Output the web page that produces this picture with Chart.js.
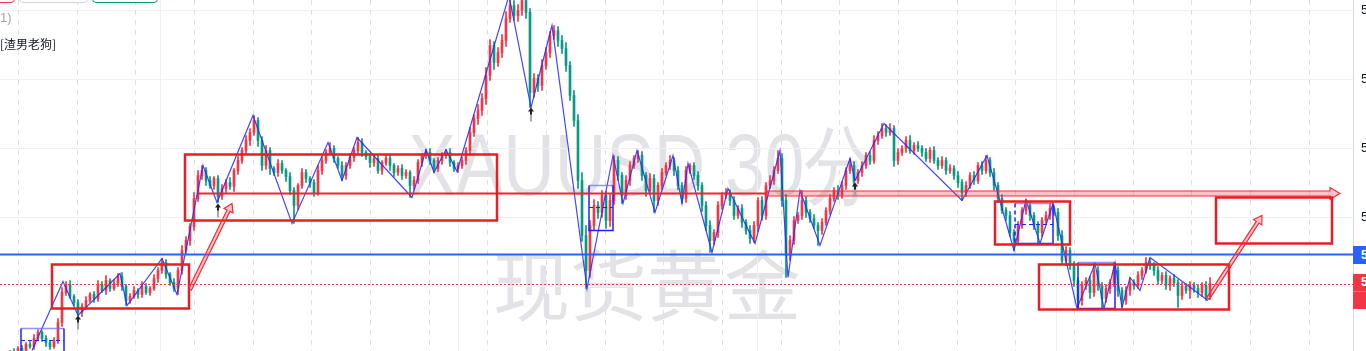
<!DOCTYPE html>
<html><head><meta charset="utf-8">
<script src="https://cdn.jsdelivr.net/npm/chart.js@4.4.1/dist/chart.umd.min.js"></script>
<style>
html,body{margin:0;padding:0;background:#fff;overflow:hidden;width:1366px;height:351px;}
#wrap{position:relative;width:1366px;height:351px;overflow:hidden;background:#fff;}
#c{position:absolute;left:0;top:0;z-index:1;}
.wm{position:absolute;left:0;width:1280px;text-align:center;color:#e3e3e7;z-index:0;white-space:nowrap;line-height:1;transform-origin:640px 0;}
#wm1{top:109px;font:72px "Liberation Sans",Arial,sans-serif;transform:scale(0.99,1.2);left:2px;}
#wm2{top:226px;left:7px;font:77px "Noto Sans CJK SC",sans-serif;}
.btn{position:absolute;top:-20px;height:21px;border-radius:4px;z-index:2;background:#fff;}
.txt{position:absolute;left:0;z-index:2;white-space:nowrap;}
#t1{top:10px;font:13px "Liberation Sans",Arial,sans-serif;color:#a3a6af;}
#t2{top:35px;font:12px "Noto Sans CJK SC",sans-serif;color:#131722;}
.plab{position:absolute;left:1353px;width:90px;z-index:3;color:#fff;font:bold 12px "Liberation Sans",Arial,sans-serif;box-sizing:border-box;padding-left:8px;}
</style></head>
<body>
<div id="wrap">
  <div class="wm" id="wm1">XAUUSD 30分</div>
  <div class="wm" id="wm2">现货黄金</div>
  <canvas id="c" width="1440" height="351"></canvas>
  <div class="btn" style="left:-10px;width:23px;border:1px solid #f23645;"></div>
  <div class="btn" style="left:19px;width:67px;border:1px solid #d1d4dc;"></div>
  <div class="btn" style="left:92px;width:64px;border:1.5px solid #089981;"></div>
  <div class="txt" id="t1">1)</div>
  <div class="txt" id="t2">[渣男老狗]</div>
  <div class="plab" id="pBlue" style="background:#2962ff;height:18px;line-height:18px;">5056.000</div>
  <div class="plab" id="pRed" style="background:#f23645;height:35px;line-height:17px;">5027.000<div style="border-top:1px solid rgba(255,255,255,0.3);margin-left:-8px;padding-left:16px;font-weight:normal;">17:52</div></div>
</div>
<script>
// ---------- data ----------
const firstOpen = 4940;
const closes = [
4945,4950,4958,4955,4962,4960,4966,4964,4972,4978,
4972,4968,4964,4970,4988,5018,5026,5014,5008,4998,
5004,5010,5016,5012,5026,5020,5030,5022,5027,5034,
5024,5010,5014,5020,5016,5024,5018,5022,5032,5040,
5048,5036,5028,5022,5040,5060,5070,5084,5112,5135,
5140,5130,5125,5132,5114,5122,5128,5124,5140,5150,
5160,5170,5178,5190,5170,5145,5160,5142,5138,5147,
5140,5134,5120,5105,5125,5138,5132,5128,5118,5140,
5150,5158,5162,5152,5145,5135,5145,5153,5160,5168,
5158,5154,5148,5152,5140,5148,5152,5145,5138,5142,
5135,5138,5125,5130,5148,5155,5158,5150,5142,5150,
5155,5158,5148,5142,5145,5150,5160,5178,5192,5200,
5212,5235,5265,5248,5258,5270,5292,5305,5295,5300,
5310,5298,5218,5232,5225,5245,5258,5275,5280,5270,
5262,5245,5215,5190,5130,5075,5040,5085,5105,5098,
5115,5090,5110,5150,5135,5115,5130,5145,5152,5155,
5135,5120,5132,5110,5125,5138,5145,5150,5140,5125,
5112,5140,5145,5135,5125,5105,5085,5070,5078,5105,
5115,5118,5110,5095,5102,5088,5080,5072,5085,5110,
5095,5125,5130,5140,5152,5110,5055,5070,5090,5095,
5110,5098,5092,5085,5080,5088,5100,5112,5120,5115,
5125,5140,5145,5130,5138,5145,5155,5150,5170,5175,
5182,5178,5182,5150,5158,5162,5170,5160,5165,5162,
5158,5152,5160,5150,5145,5150,5140,5142,5135,5128,
5118,5125,5135,5130,5145,5140,5150,5138,5125,5112,
5100,5095,5078,5070,5085,5100,5105,5095,5085,5078,
5090,5095,5102,5098,5075,5050,5060,5045,5030,5010,
5025,5030,5018,5040,5025,5012,5022,5028,5040,5020,
5010,5020,5028,5025,5035,5040,5048,5045,5040,5030,
5035,5025,5032,5028,5015,5024,5020,5025,5022,5018,
5025,5014,5027
];
const wickUp = [
2,3,2,4,2,3,2,3,4,3, 2,3,2,3,4,5,3,4,2,3, 3,4,2,3,4,3,5,2,4,3, 4,2,3,4,2,5,3,2,4,3,
4,3,2,4,3,5,4,3,6,5, 5,3,4,2,3,4,3,5,2,4, 3,5,4,5,3,4,5,3,2,4, 3,2,4,3,2,4,3,2,3,5,
4,3,6,3,2,4,3,4,3,5, 4,2,3,4,3,2,4,3,2,3, 4,3,2,4,3,2,3,4,2,3, 3,3,4,2,3,4,3,5,4,6,
5,8,6,4,5,6,7,10,5,6, 8,6,4,5,4,6,5,4,5,4, 5,6,4,5,6,8,10,5,6,4, 5,4,6,5,4,3,5,4,3,5,
4,3,5,4,3,4,3,5,3,4, 3,4,2,3,4,3,4,5,3,4, 3,4,3,4,3,4,3,5,4,3, 4,3,5,4,8,5,6,5,4,3,
10,4,3,4,3,4,3,4,3,5, 4,3,7,4,3,4,3,4,5,4, 5,4,5,3,4,3,4,5,3,4, 3,4,3,4,3,4,3,4,3,4,
3,4,3,4,3,4,5,3,4,3, 4,3,4,3,4,3,6,4,3,4, 3,4,5,3,4,5,4,3,4,3, 4,3,4,7,4,3,4,3,8,4,
3,4,5,3,4,3,5,4,3,4, 3,4,3,4,3,4,3,4,3,4, 3,4,6
];
const wickDown = [
3,2,4,2,3,2,4,2,3,2, 3,4,3,2,3,4,3,2,3,3, 4,3,2,4,3,2,4,3,2,3, 4,5,3,2,4,3,2,3,2,4,
3,4,3,3,6,4,3,5,4,3, 4,5,3,4,6,3,4,3,5,4, 3,4,5,3,6,5,4,6,3,4, 3,5,4,18,4,3,4,5,4,3,
4,3,2,4,3,5,4,3,4,3, 4,3,5,4,3,4,3,5,4,3, 4,3,12,4,3,4,3,4,4,3, 4,3,4,3,4,3,4,5,4,6,
5,6,5,7,4,5,6,4,5,6, 5,6,15,5,6,5,4,5,4,6, 5,6,5,6,8,6,18,7,5,6, 5,8,6,4,5,8,4,5,3,4,
5,6,4,12,5,4,3,4,5,4, 5,4,3,4,5,6,5,12,4,5, 4,3,5,4,3,5,4,5,4,6, 5,4,3,4,3,6,22,5,4,3,
4,5,4,3,15,4,3,4,3,4, 3,4,3,5,3,4,3,4,3,4, 3,4,3,6,4,3,4,3,4,3, 4,3,4,3,4,3,4,3,4,5,
8,4,3,4,3,4,3,4,5,4, 3,5,4,10,4,3,4,5,4,11, 4,3,4,3,5,4,5,4,6,8, 5,4,6,4,5,10,4,5,4,6,
7,4,5,4,3,4,3,4,5,4, 3,4,5,4,12,4,3,8,4,5, 4,4,3
];
const tickValues = [5300, 5231, 5162, 5093, 5024];
const zigzagIdx = [7.5,15.25,19,29.5,31.25,40,43.75,50.25,53.75,62.75,72.5,81.5,85,88.75,102.5,106,108,111,113.75,126.75,132.25,137.5,146.25,152.75,155.25,158.75,163.25,167.75,170,171.5,177.5,181.5,188.25,194.5,196.5,199.5,204.5,212,213.25,220.5,240,246.25,253,256,259.5,262.75,268.75,273.25,275.5,278.25,280,282,284.5,287,301.5];
const zigzagPrice = [4960,5029,4995,5037,5005,5052,5016,5145,5108,5195,5087,5168,5130,5173,5113,5161,5138,5161,5139,5315,5203,5285,5022,5155,5107,5160,5098,5155,5107,5147,5058,5122,5067,5160,5033,5120,5065,5152,5130,5187,5110,5155,5060,5111,5067,5107,5002,5047,5002,5048,5003,5033,5020,5053,5010];
// annotation drawings in data units [x1, price1, x2, price2]
const redBoxes = [[12.5,5046,46.75,5002],[45.75,5156,123.75,5090],[248.25,5109,267,5066],[259.25,5046,306.75,5001],[303.5,5113,332.5,5067]];
const blueBoxes = [[4.75,4982,15.5,4958,4970],[146.75,5125,152.75,5080,5103],[253.25,5107,262.75,5067,5086],[269,5048,278.25,5002,5025]];
const redLevel = [49, 191.25, 332, 334.5, 5117];     // solid start, band start, band end, tip, price
const hollowArrows = [[47,5021,57.5,5107],[301.5,5012,315,5095]];
const upMarkers = [[19,4995],[54,5107],[132.25,5203],[213.25,5128]];
const blueLinePrice = 5056;
const redDotPrice = 5027;
const vDash = [4,18.67,33.33,48,62.67,77.33,92,106.67,121.33,136,150.67,165.33,180,194.67,209.33,224,238.67,253.33,268,282.67,297.33,312,326.67];
const vSolid = [39.5,114,188.75,263.5];

// ---------- build ----------
const opens = closes.map((c,i)=> i ? closes[i-1] : firstOpen);
const highs = closes.map((c,i)=> Math.max(c,opens[i]) + wickUp[i]);
const lows = closes.map((c,i)=> Math.min(c,opens[i]) - wickDown[i]);
const RED='#f23645', GREEN='#089981';
const colors = closes.map((c,i)=> c>=opens[i] ? RED : GREEN);
const bodyData = closes.map((c,i)=>({x:i, y: c===opens[i] ? [c-0.6,c+0.6] : [opens[i],c]}));
const wickData = closes.map((c,i)=>({x:i, y:[lows[i],highs[i]]}));
const zigzag = zigzagIdx.map((x,i)=>({x, y:zigzagPrice[i]}));

const CHART_RIGHT = 1353;
const gridPlugin = {
  id:'bgGrid',
  beforeDatasetsDraw(chart){
    const {ctx, chartArea:a, scales:{x}} = chart;
    ctx.save(); ctx.beginPath(); ctx.rect(a.left,a.top,a.width,a.height); ctx.clip();
    ctx.lineWidth=1;
    ctx.strokeStyle='#eff0f3'; ctx.setLineDash([]);
    vSolid.forEach(v=>{const p=Math.round(x.getPixelForValue(v))+0.5; ctx.beginPath(); ctx.moveTo(p,a.top); ctx.lineTo(p,a.bottom); ctx.stroke();});
    ctx.strokeStyle='#dfe0e6'; ctx.setLineDash([5,5]);
    vDash.forEach(v=>{const p=Math.round(x.getPixelForValue(v))+0.5; ctx.beginPath(); ctx.moveTo(p,a.top); ctx.lineTo(p,a.bottom); ctx.stroke();});
    ctx.restore();
  }
};
function hollowArrow(ctx,x1,y1,x2,y2,sh,hh,hl){
  const dx=x2-x1, dy=y2-y1, L=Math.hypot(dx,dy), ux=dx/L, uy=dy/L, nx=-uy, ny=ux;
  const bx=x2-ux*hl, by=y2-uy*hl;
  const pts=[[x1+nx*sh,y1+ny*sh],[bx+nx*sh,by+ny*sh],[bx+nx*hh,by+ny*hh],[x2,y2],[bx-nx*hh,by-ny*hh],[bx-nx*sh,by-ny*sh],[x1-nx*sh,y1-ny*sh]];
  ctx.beginPath(); pts.forEach((p,i)=> i?ctx.lineTo(p[0],p[1]):ctx.moveTo(p[0],p[1])); ctx.closePath();
  ctx.fillStyle='rgba(242,54,69,0.3)'; ctx.fill();
  ctx.strokeStyle='#ef2f3a'; ctx.lineWidth=1.2; ctx.stroke();
}
const annotPlugin = {
  id:'annot',
  afterDatasetsDraw(chart){
    const {ctx, chartArea:a, scales:{x,y}} = chart;
    const X=v=>x.getPixelForValue(v), Y=v=>y.getPixelForValue(v);
    ctx.save(); ctx.beginPath(); ctx.rect(a.left,a.top,a.width,a.height); ctx.clip();
    ctx.setLineDash([]); ctx.strokeStyle='#2962ff'; ctx.lineWidth=2;
    let py=Y(blueLinePrice); ctx.beginPath(); ctx.moveTo(a.left,py); ctx.lineTo(a.right,py); ctx.stroke();
    ctx.strokeStyle='#f23645'; ctx.lineWidth=1; ctx.setLineDash([2,2]);
    py=Math.round(Y(redDotPrice))+0.5; ctx.beginPath(); ctx.moveTo(a.left,py); ctx.lineTo(a.right,py); ctx.stroke();
    ctx.setLineDash([]);
    blueBoxes.forEach((b,k)=>{
      const x1=X(b[0]), y1=Y(b[1]), x2=X(b[2]), y2=Y(b[3]), ym=Y(b[4]);
      ctx.lineWidth=1.5;
      ctx.strokeStyle='rgba(110,110,255,0.75)'; ctx.beginPath(); ctx.moveTo(x1,y1); ctx.lineTo(x2,y1); ctx.stroke();
      ctx.strokeStyle='#2020ff';
      ctx.beginPath(); ctx.moveTo(x2,y1); ctx.lineTo(x2,y2); ctx.lineTo(x1,y2); if(k!==2) ctx.lineTo(x1,y1); ctx.stroke();
      if(k===2){ ctx.setLineDash([4,3]); ctx.beginPath(); ctx.moveTo(x1,y1); ctx.lineTo(x1,y2); ctx.stroke(); ctx.setLineDash([]); }
      ctx.setLineDash([4,3]); ctx.strokeStyle= k===3 ? 'rgba(110,110,255,0.6)' : '#2020ff'; ctx.lineWidth=1.2;
      ctx.beginPath(); ctx.moveTo(x1,ym); ctx.lineTo(x2,ym); ctx.stroke(); ctx.setLineDash([]);
    });
    const ry=Y(redLevel[4]);
    ctx.strokeStyle='#ee2530'; ctx.lineWidth=2.2;
    ctx.beginPath(); ctx.moveTo(X(redLevel[0]),ry); ctx.lineTo(X(redLevel[1]),ry); ctx.stroke();
    hollowArrow(ctx, X(redLevel[1]), ry, X(redLevel[3]), ry, 2.5, 6, X(redLevel[3])-X(redLevel[2]));
    ctx.strokeStyle='#ea1d25'; ctx.lineWidth=2.5;
    redBoxes.forEach(b=>{ const x1=X(b[0]), y1=Y(b[1]), x2=X(b[2]), y2=Y(b[3]); ctx.strokeRect(x1,y1,x2-x1,y2-y1); });
    hollowArrows.forEach(h=> hollowArrow(ctx, X(h[0]),Y(h[1]),X(h[2]),Y(h[3]), 1.6, 5, 8));
    upMarkers.forEach(m=>{
      const mx=Math.round(X(m[0])), my=Y(m[1]);
      ctx.strokeStyle='rgba(160,160,165,0.9)'; ctx.lineWidth=2;
      ctx.beginPath(); ctx.moveTo(mx,my+5); ctx.lineTo(mx,my+14); ctx.stroke();
      ctx.strokeStyle='#222'; ctx.beginPath(); ctx.moveTo(mx,my+2); ctx.lineTo(mx,my+7); ctx.stroke();
      ctx.fillStyle='#222'; ctx.beginPath(); ctx.moveTo(mx,my); ctx.lineTo(mx-3,my+4); ctx.lineTo(mx+3,my+4); ctx.closePath(); ctx.fill();
    });
    ctx.restore();
  }
};

const W = 1440;
const chart = new Chart(document.getElementById('c'), {
  type:'bar',
  data:{datasets:[
    {type:'line', data:zigzag, borderColor:'rgba(38,38,255,0.85)', borderWidth:1.2, pointRadius:0, tension:0, order:0},
    {type:'bar', data:bodyData, backgroundColor:colors, barThickness:2, grouped:false, borderWidth:0, order:1},
    {type:'bar', data:wickData, backgroundColor:colors, barThickness:1, grouped:false, borderWidth:0, order:2}
  ]},
  options:{
    responsive:false, devicePixelRatio:1, animation:false,
    layout:{padding:0},
    plugins:{legend:{display:false}, tooltip:{enabled:false}},
    scales:{
      x:{type:'linear', min:-0.5, max:CHART_RIGHT/4-0.5, display:false, offset:false},
      y:{position:'right', min:4959.5, max:5310.5,
         afterBuildTicks:s=>{ s.ticks = tickValues.map(v=>({value:v})); },
         afterFit:s=>{ s.width = W-CHART_RIGHT; s.paddingTop=0; s.paddingBottom=0; },
         ticks:{padding:8, color:'#131722', font:{size:13, family:'Liberation Sans'}, callback:v=>v.toFixed(3), autoSkip:false},
         grid:{color:'#f0f1f4', drawTicks:false},
         border:{color:'#d8d8e6'}
      }
    }
  },
  plugins:[gridPlugin, annotPlugin]
});
const ys = chart.scales.y;
document.getElementById('pBlue').style.top = (ys.getPixelForValue(blueLinePrice)-9)+'px';
document.getElementById('pRed').style.top = (ys.getPixelForValue(redDotPrice)-10)+'px';
</script>
</body></html>
